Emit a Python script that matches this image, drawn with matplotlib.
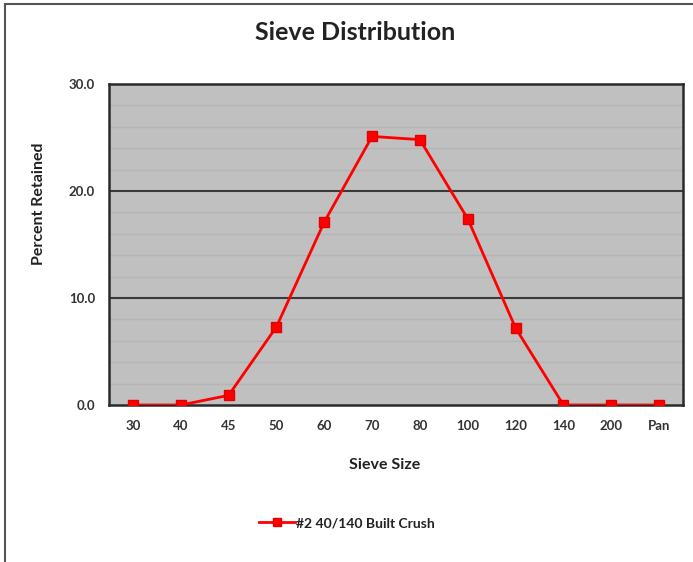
import matplotlib
matplotlib.use("Agg")
import matplotlib.pyplot as plt
from matplotlib.patches import Rectangle

categories = ["30", "40", "45", "50", "60", "70", "80", "100", "120", "140", "200", "Pan"]
percent_retained = [0.0, 0.0, 0.9, 7.3, 17.1, 25.1, 24.8, 17.4, 7.2, 0.0, 0.0, 0.0]
series_name = "#2 40/140 Built Crush"
y_ticks = [0, 10, 20, 30]

plt.rcParams['font.family'] = ['Lato', 'DejaVu Sans']

W, H = 693, 562
fig = plt.figure(figsize=(W/100, H/100), dpi=100)
fig.patch.set_facecolor('white')

# figure frame (left & top visible)
fig.add_artist(Rectangle((5/W, -0.1), 2.0, (H-4)/H + 0.1, transform=fig.transFigure,
                         fill=False, edgecolor='#555555', linewidth=1.5))

left, right, top, bottom = 109, 683, 84, 405
ax = fig.add_axes([left/W, 1-bottom/H, (right-left)/W, (bottom-top)/H])
ax.set_facecolor('#C0C0C0')

x = list(range(len(categories)))
ax.set_xlim(-0.5, len(categories)-0.5)
ax.set_ylim(0, 30)

# minor gridlines every 2
for v in range(2, 30, 2):
    if v % 10 != 0:
        ax.axhline(v, color='#B4B4B4', linewidth=1.0, zorder=1)
for v in [10, 20]:
    ax.axhline(v, color='#3A3A3A', linewidth=1.5, zorder=2)

ax.plot(x, percent_retained, color='#FF0000', linewidth=2.0, marker='s',
        markersize=7, markerfacecolor='#FF0000', markeredgecolor='#E00000', zorder=5,
        label=series_name)

ax.set_xticks(x)
ax.set_xticklabels(categories, fontsize=9.5, fontweight='bold', color='#333333')
ax.set_yticks(y_ticks)
ax.set_yticklabels([f"{v:.1f}" for v in y_ticks], fontsize=9.5, fontweight='bold', color='#333333')
ax.tick_params(axis='x', length=0, pad=11)
ax.tick_params(axis='y', length=0, pad=10)

for s in ax.spines.values():
    s.set_color('#2A2A2A')
    s.set_linewidth(1.8)

fig.text(355/W, 1-33/H, "Sieve Distribution", ha='center', va='center',
         fontsize=18, fontweight='bold', color='#222222')
fig.text(39/W, 1-204/H, "Percent Retained", ha='center', va='center',
         rotation=90, fontsize=11.5, fontweight='bold', color='#222222')
fig.text(385/W, 1-465/H, "Sieve Size", ha='center', va='center',
         fontsize=11.5, fontweight='bold', color='#222222')

leg = fig.legend(loc='center', bbox_to_anchor=(347/W, 1-523/H), frameon=False,
                 prop={'size': 10, 'weight': 'bold'}, handlelength=2.6, handletextpad=0.1,
                 markerscale=0.9)
for t in leg.get_texts():
    t.set_color('#222222')

fig.savefig("out.png", dpi=100, facecolor='white')
